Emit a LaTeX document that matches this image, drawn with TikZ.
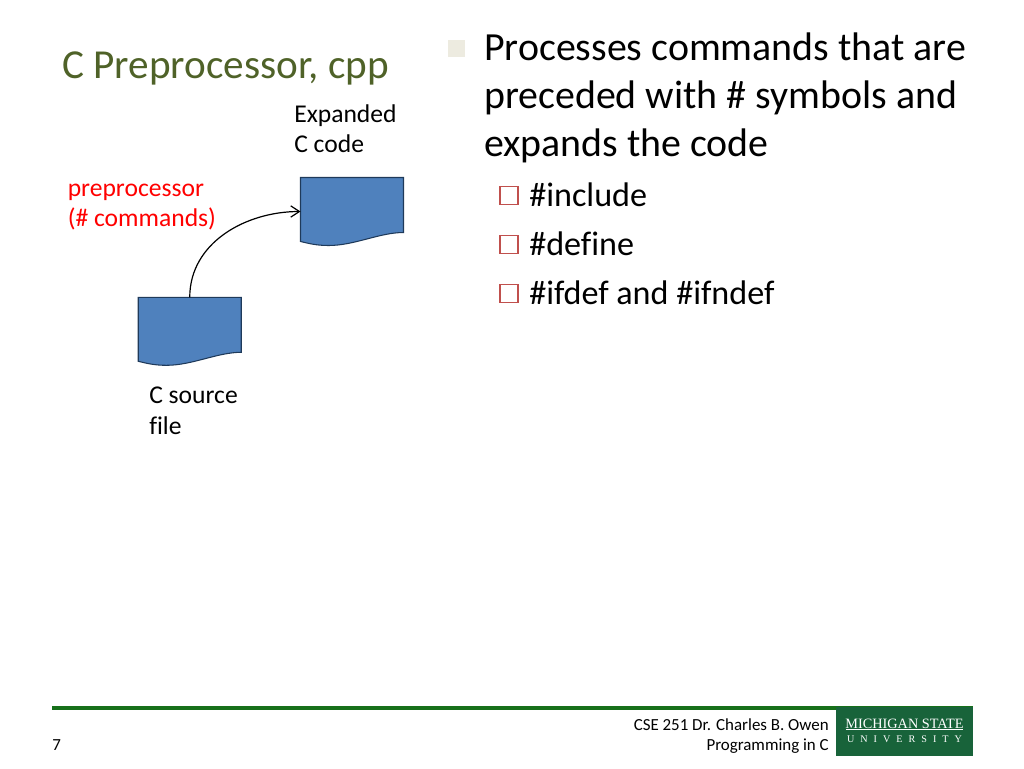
\documentclass[tikz,border=0pt]{standalone}
\usepackage{fontspec}
\setmainfont[Ligatures=NoCommon]{Carlito}
\newfontfamily\logofont{Liberation Serif}
\usetikzlibrary{arrows.meta}
\definecolor{titlegreen}{HTML}{4F6228}
\definecolor{docblue}{HTML}{4F81BD}
\definecolor{docedge}{HTML}{1F3A5A}
\definecolor{barred}{HTML}{C0504D}
\definecolor{barbeige}{HTML}{EDEBE0}
\definecolor{rulegreen}{HTML}{17701A}
\definecolor{logogreen}{HTML}{18633A}
\tikzset{
	doc/.style={minimum width=77.25pt,minimum height=51pt,inner sep=0pt,outer sep=0pt},
	lbl/.style={anchor=north west,inner sep=0pt,align=left,font=\fontsize{19.2}{22.6}\selectfont},
	mainline/.style={anchor=north west,inner sep=0pt,align=left,font=\fontsize{29.9}{36}\selectfont},
	subline/.style={anchor=base west,inner sep=0pt,font=\fontsize{25.6}{30}\selectfont},
	foot/.style={anchor=base east,inner sep=0pt,font=\fontsize{12.7}{15}\selectfont},
	subbar/.style={draw=barred,line width=1.4pt,fill=white,minimum size=13.5pt,inner sep=0pt},
}
\begin{document}
\begin{tikzpicture}[x=0.75pt,y=-0.75pt,>={Straight Barb[length=6.5pt,width=8.5pt]}]
	\useasboundingbox (0,0) rectangle (1024,768);
	% left side
	\node [anchor=base west,inner sep=0pt,text=titlegreen,font=\fontsize{30.9}{36}\selectfont] (title) at (62,78) {C Preprocessor, cpp};
	\node [doc] (src) at (189.75,331.3) {};
	\node [doc] (exp) at (352,211.5) {};
	\foreach \n in {src,exp}
		\draw [fill=docblue,draw=docedge,line width=0.8pt] (\n.north west) -- (\n.north east) -- ([yshift=9.75pt]\n.south east)
			.. controls ([xshift=-18pt,yshift=9.75pt]\n.south east) and ([xshift=2pt]\n.south) .. ([xshift=-17.5pt]\n.south)
			.. controls ([xshift=-27pt]\n.south) and ([xshift=6pt,yshift=1.6pt]\n.south west) .. ([yshift=3pt]\n.south west) -- cycle;
	\draw [->,line width=0.9pt] (src.north) to [out=90,in=180] (exp.west);
	\node [lbl] (explbl) at (294,104) {Expanded\\C code};
	\node [lbl,text=red] (preproc) at (67.5,184) {preprocessor\\(\# commands)};
	\node [lbl] (srclbl) at (149,387) {C source\\file};
	% right side
	\node [fill=barbeige,minimum size=12.75pt,inner sep=0pt] (bar0) at (456.5,48.5) {};
	\node [mainline] (body) at (484,33) {Processes commands that are\\preceded with \# symbols and\\expands the code};
	\node [subbar] (bar1) at (509,195.5) {};
	\node [subbar] (bar2) at (509,244.5) {};
	\node [subbar] (bar3) at (509,293.5) {};
	\node [subline] (inc) at (529,206) {\#include};
	\node [subline] (def) at (529,255) {\#define};
	\node [subline] (ifd) at (529,304) {\#ifdef and \#ifndef};
	% footer
	\node [fill=rulegreen,minimum width=690.75pt,minimum height=2.7pt,inner sep=0pt] (rule) at (512.5,708) {};
	\node [fill=logogreen,minimum width=102.75pt,minimum height=36.5pt,inner sep=0pt] (logo) at (904.5,731.4) {};
	\node [inner sep=0pt,text=white,font=\logofont\fontsize{10.7}{13}\selectfont] (msu) at (904.5,723.5) {MICHIGAN STATE};
	\node [inner sep=0pt,text=white,font=\logofont\fontsize{7.6}{9}\selectfont] (univ) at (904.5,739) {U\hspace{4.5pt}N\hspace{4.5pt}I\hspace{4.5pt}V\hspace{4.5pt}E\hspace{4.5pt}R\hspace{4.5pt}S\hspace{4.5pt}I\hspace{4.5pt}T\hspace{4.5pt}Y};
	\draw [white,line width=0.5pt] ([xshift=-44pt,yshift=-0.5pt]msu.south) -- ([xshift=44pt,yshift=-0.5pt]msu.south);
	\node [foot] (course) at (829,730) {CSE 251 Dr. Charles B. Owen};
	\node [foot] (prog) at (829,750) {Programming in C};
	\node [anchor=base west,inner sep=0pt,font=\fontsize{12.7}{15}\selectfont] (page) at (52,750) {7};
\end{tikzpicture}
\end{document}
